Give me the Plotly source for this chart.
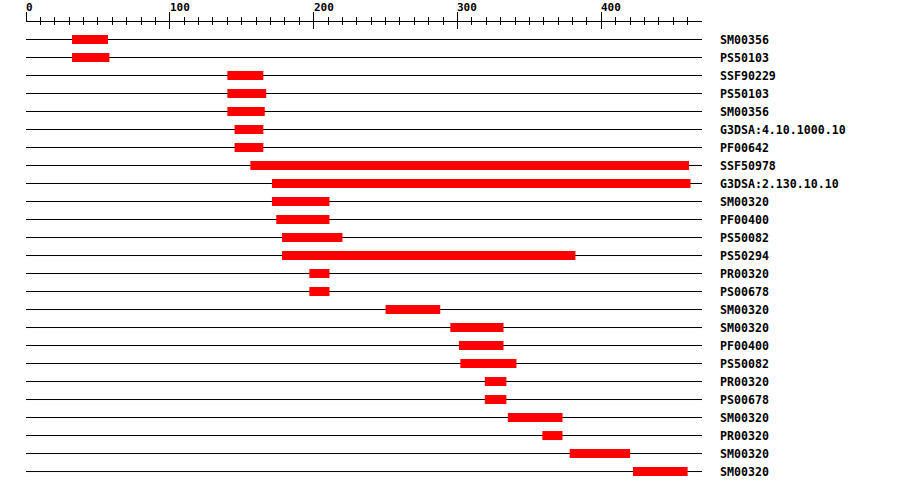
import plotly.graph_objects as go

seq_length = 470
labels = ["SM00356", "PS50103", "SSF90229", "PS50103", "SM00356", "G3DSA:4.10.1000.10",
          "PF00642", "SSF50978", "G3DSA:2.130.10.10", "SM00320", "PF00400", "PS50082",
          "PS50294", "PR00320", "PS00678", "SM00320", "SM00320", "PF00400", "PS50082",
          "PR00320", "PS00678", "SM00320", "PR00320", "SM00320", "SM00320"]
starts = [32, 32, 140, 140, 140, 145, 145, 156, 171, 171, 174, 178, 178, 197, 197,
          250, 295, 301, 302, 319, 319, 335, 359, 378, 422]
ends = [57, 58, 165, 167, 166, 165, 165, 461, 462, 211, 211, 220, 382, 211, 211,
        288, 332, 332, 341, 334, 334, 373, 373, 420, 460]
major_ticks = [0, 100, 200, 300, 400]
minor_ticks = [v for v in range(10, 461, 10) if v % 100 != 0]

FONT = "DejaVu Sans Mono"
n = len(labels)
rows = list(range(n))

# row baselines
lx, ly = [], []
for r in rows:
    lx += [0, seq_length, None]
    ly += [r, r, None]
# domain bars
bx, by = [], []
for r, s, e in zip(rows, starts, ends):
    bx += [s, e, None]
    by += [r, r, None]

fig = go.Figure()
fig.add_trace(go.Scatter(x=lx, y=ly, mode="lines", line=dict(color="black", width=1),
                         hoverinfo="skip", showlegend=False))
fig.add_trace(go.Scatter(x=bx, y=by, mode="lines", line=dict(color="#ff0000", width=9),
                         hoverinfo="skip", showlegend=False))
# invisible trace to attach the downward tick axis
fig.add_trace(go.Scatter(x=[0], y=[0], xaxis="x2", mode="markers", marker=dict(opacity=0),
                         hoverinfo="skip", showlegend=False))

for r, lab in zip(rows, labels):
    fig.add_annotation(x=1.024, y=r, xref="paper", yref="y", text=lab, showarrow=False,
                       xanchor="left", yanchor="middle",
                       font=dict(family=FONT, size=11.6, color="black", weight="bold"))

for t in major_ticks:
    fig.add_annotation(x=t, y=1, xref="x", yref="paper", text=str(t), showarrow=False,
                       xanchor="left", yanchor="bottom", yshift=6, xshift=-2,
                       font=dict(family=FONT, size=11, color="black", weight="bold"))

axis_common = dict(range=[0, seq_length], showgrid=False, zeroline=False,
                   showticklabels=False, tickvals=major_ticks, tickcolor="black",
                   tickwidth=1)
fig.update_layout(
    width=900, height=490,
    margin=dict(l=26, r=198, t=22, b=10),
    paper_bgcolor="white", plot_bgcolor="white",
    xaxis=dict(side="top", showline=True, linecolor="black", linewidth=1,
               ticks="outside", ticklen=9,
               minor=dict(tickvals=minor_ticks, ticks="outside", ticklen=4,
                          tickcolor="black", tickwidth=1),
               **axis_common),
    xaxis2=dict(side="top", overlaying="x", anchor="y", matches="x", showline=False,
                ticks="inside", ticklen=7,
                minor=dict(tickvals=minor_ticks, ticks="inside", ticklen=3,
                           tickcolor="black", tickwidth=1),
                **axis_common),
    yaxis=dict(range=[24.47, -0.972], visible=False, showgrid=False, zeroline=False),
)

fig.write_html("out.html", config={"displayModeBar": False},
               post_script="document.body.style.margin='0';document.body.style.padding='0';")
